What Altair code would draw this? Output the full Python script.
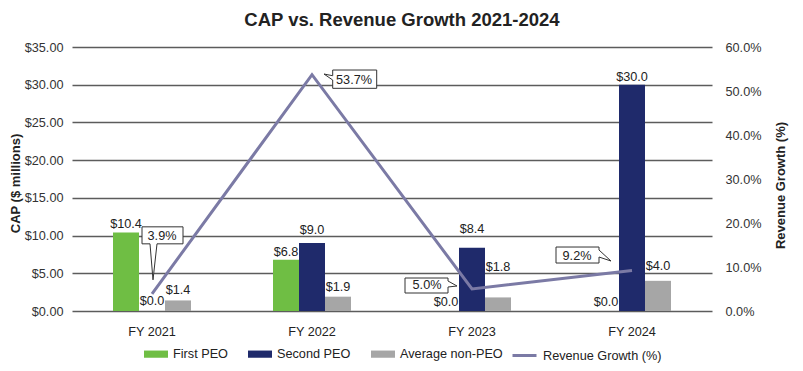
import altair as alt
import pandas as pd

# ---------------- data ----------------
years = ["FY 2021", "FY 2022", "FY 2023", "FY 2024"]
series_names = ["First PEO", "Second PEO", "Average non-PEO"]
first_peo = [10.4, 6.8, 0.0, 0.0]
second_peo = [0.0, 9.0, 8.4, 30.0]
avg_non_peo = [1.4, 1.9, 1.8, 4.0]
growth_pct = [3.9, 53.7, 5.0, 9.2]
line_name = "Revenue Growth (%)"
left_ticks = [0, 5, 10, 15, 20, 25, 30, 35]
right_ticks = [0.0, 0.1, 0.2, 0.3, 0.4, 0.5, 0.6]

# ---------------- style ----------------
FONT = "Liberation Sans"
FS = 12.7
colors = ["#6fbe44", "#1f2a6b", "#a6a6a6"]
line_color = "#7b7aa5"
# pixel lift of each value label above its bar top (style only)
label_lift = {
    ("FY 2021", "First PEO"): 9, ("FY 2021", "Second PEO"): 10, ("FY 2021", "Average non-PEO"): 10,
    ("FY 2022", "First PEO"): 8, ("FY 2022", "Second PEO"): 13, ("FY 2022", "Average non-PEO"): 10,
    ("FY 2023", "First PEO"): 9, ("FY 2023", "Second PEO"): 19, ("FY 2023", "Average non-PEO"): 30,
    ("FY 2024", "First PEO"): 9, ("FY 2024", "Second PEO"): 8, ("FY 2024", "Average non-PEO"): 15,
}
# callout box shapes (unit = 100 px, tip near the data point)
callout_paths = [
    "M-0.10,-0.67 L0.31,-0.67 L0.31,-0.50 L0.05,-0.50 L0.01,-0.14 L-0.02,-0.50 L-0.10,-0.50 Z",
    "M0.207,-0.047 L0.647,-0.047 L0.647,0.136 L0.207,0.136 L0.207,0.053 L0.12,-0.007 L0.207,0.01 Z",
    "M-0.67,-0.11 L-0.24,-0.11 L-0.24,-0.08 L-0.15,-0.03 L-0.24,-0.02 L-0.24,0.04 L-0.67,0.04 Z",
    "M-0.76,-0.235 L-0.33,-0.235 L-0.33,-0.205 L-0.21,-0.095 L-0.33,-0.135 L-0.33,-0.075 L-0.76,-0.075 Z",
]
callout_text_offsets = [(10, -58), (42, 5), (-45, -4), (-55, -15)]

# ---------------- tables ----------------
rows = []
for i, y in enumerate(years):
    for s, vals in zip(series_names, [first_peo, second_peo, avg_non_peo]):
        rows.append({"Year": y, "Series": s, "Value": vals[i], "Lift": label_lift[(y, s)]})
bars_df = pd.DataFrame(rows)

line_df = pd.DataFrame({
    "Year": years,
    "Growth": [g / 100 for g in growth_pct],
    "Name": [line_name] * len(years),
})

# ---------------- encodings ----------------
x_enc = alt.X(
    "Year:N", sort=years,
    scale=alt.Scale(paddingInner=0.5125, paddingOuter=0.25625),
    axis=alt.Axis(title=None, labelAngle=0, domain=False, ticks=False,
                  labelPadding=14, labelFontSize=FS, labelColor="#222",
                  labelFont=FONT, grid=False),
)
xoff = alt.XOffset("Series:N", sort=series_names, scale=alt.Scale(paddingInner=0, paddingOuter=0))

y_left = alt.Y(
    "Value:Q", scale=alt.Scale(domain=[0, 35], nice=False),
    axis=alt.Axis(values=left_ticks, format="$.2f", title="CAP ($ millions)",
                  titleFontSize=13, titleFontWeight="bold", titleFont=FONT,
                  titleColor="#222", titleAngle=270, titleBaseline="middle",
                  titleAlign="center", titleX=-57, titleY=136,
                  labelFontSize=FS, labelColor="#333", labelFont=FONT,
                  labelPadding=9, domain=False, ticks=False,
                  grid=True, gridColor="#5c5c5c", gridWidth=1.3),
)

legend_common = dict(title=None, orient="none", direction="horizontal",
                     symbolSize=576, labelFontSize=FS, labelFont=FONT,
                     labelColor="#222", labelOffset=5)

bars = alt.Chart(bars_df).mark_bar().encode(
    x=x_enc, xOffset=xoff, y=y_left,
    color=alt.Color("Series:N", sort=series_names,
                    scale=alt.Scale(domain=series_names, range=colors),
                    legend=alt.Legend(symbolType="M-1,-0.3H1V0.3H-1Z", symbolStrokeWidth=0,
                                      columnPadding=20, legendX=72, legendY=295,
                                      **legend_common)),
)

label_layers = []
for lift in sorted(set(label_lift.values())):
    label_layers.append(
        alt.Chart(bars_df).transform_filter(alt.datum.Lift == lift)
        .mark_text(fontSize=FS, font=FONT, color="#222", baseline="middle", dy=-lift)
        .encode(x=x_enc, xOffset=xoff, y=y_left,
                text=alt.Text("Value:Q", format="$.1f"))
    )

bar_layer = alt.layer(bars, *label_layers)

y_right = alt.Y(
    "Growth:Q", scale=alt.Scale(domain=[0, 0.6], nice=False),
    axis=alt.Axis(orient="right", values=right_ticks, format=".1%",
                  title="Revenue Growth (%)", titleFontSize=13, titleFontWeight="bold",
                  titleFont=FONT, titleColor="#222", titleAngle=270,
                  titleBaseline="middle", titleAlign="center", titleX=68, titleY=138,
                  labelFontSize=FS, labelColor="#333", labelFont=FONT,
                  labelPadding=13, domain=False, ticks=False, grid=False),
)

line = alt.Chart(line_df).mark_line(strokeWidth=3).encode(
    x=x_enc, y=y_right,
    stroke=alt.Stroke("Name:N", scale=alt.Scale(domain=[line_name], range=[line_color]),
                      legend=alt.Legend(symbolType="stroke", symbolStrokeWidth=3,
                                        legendX=439, legendY=295, **legend_common)),
)

callouts = alt.Chart(line_df).mark_point(
    filled=True, fill="white", stroke="#333", strokeWidth=1, size=40000, opacity=1
).encode(
    x=x_enc, y=y_right,
    shape=alt.Shape("Year:N", scale=alt.Scale(domain=years, range=callout_paths), legend=None),
)

callout_texts = []
for yr, (dx, dy) in zip(years, callout_text_offsets):
    callout_texts.append(
        alt.Chart(line_df).transform_filter(alt.datum.Year == yr)
        .mark_text(fontSize=FS, font=FONT, color="#222", dx=dx, dy=dy, baseline="middle")
        .encode(x=x_enc, y=y_right, text=alt.Text("Growth:Q", format=".1%"))
    )

line_layer = alt.layer(line, callouts, *callout_texts)

chart = alt.layer(bar_layer, line_layer).resolve_scale(y="independent").properties(
    width=640, height=264,
    background="white",
    autosize=alt.AutoSizeParams(type="none"),
    padding={"left": 64, "top": 39, "right": 80, "bottom": 58},
    title=alt.TitleParams("CAP vs. Revenue Growth 2021-2024", fontSize=18.5, font=FONT,
                          fontWeight="bold", color="#222", anchor="middle",
                          offset=12, dx=10),
).configure_view(stroke=None)

chart.save("out.html", embed_options={"renderer": "svg", "actions": False})
